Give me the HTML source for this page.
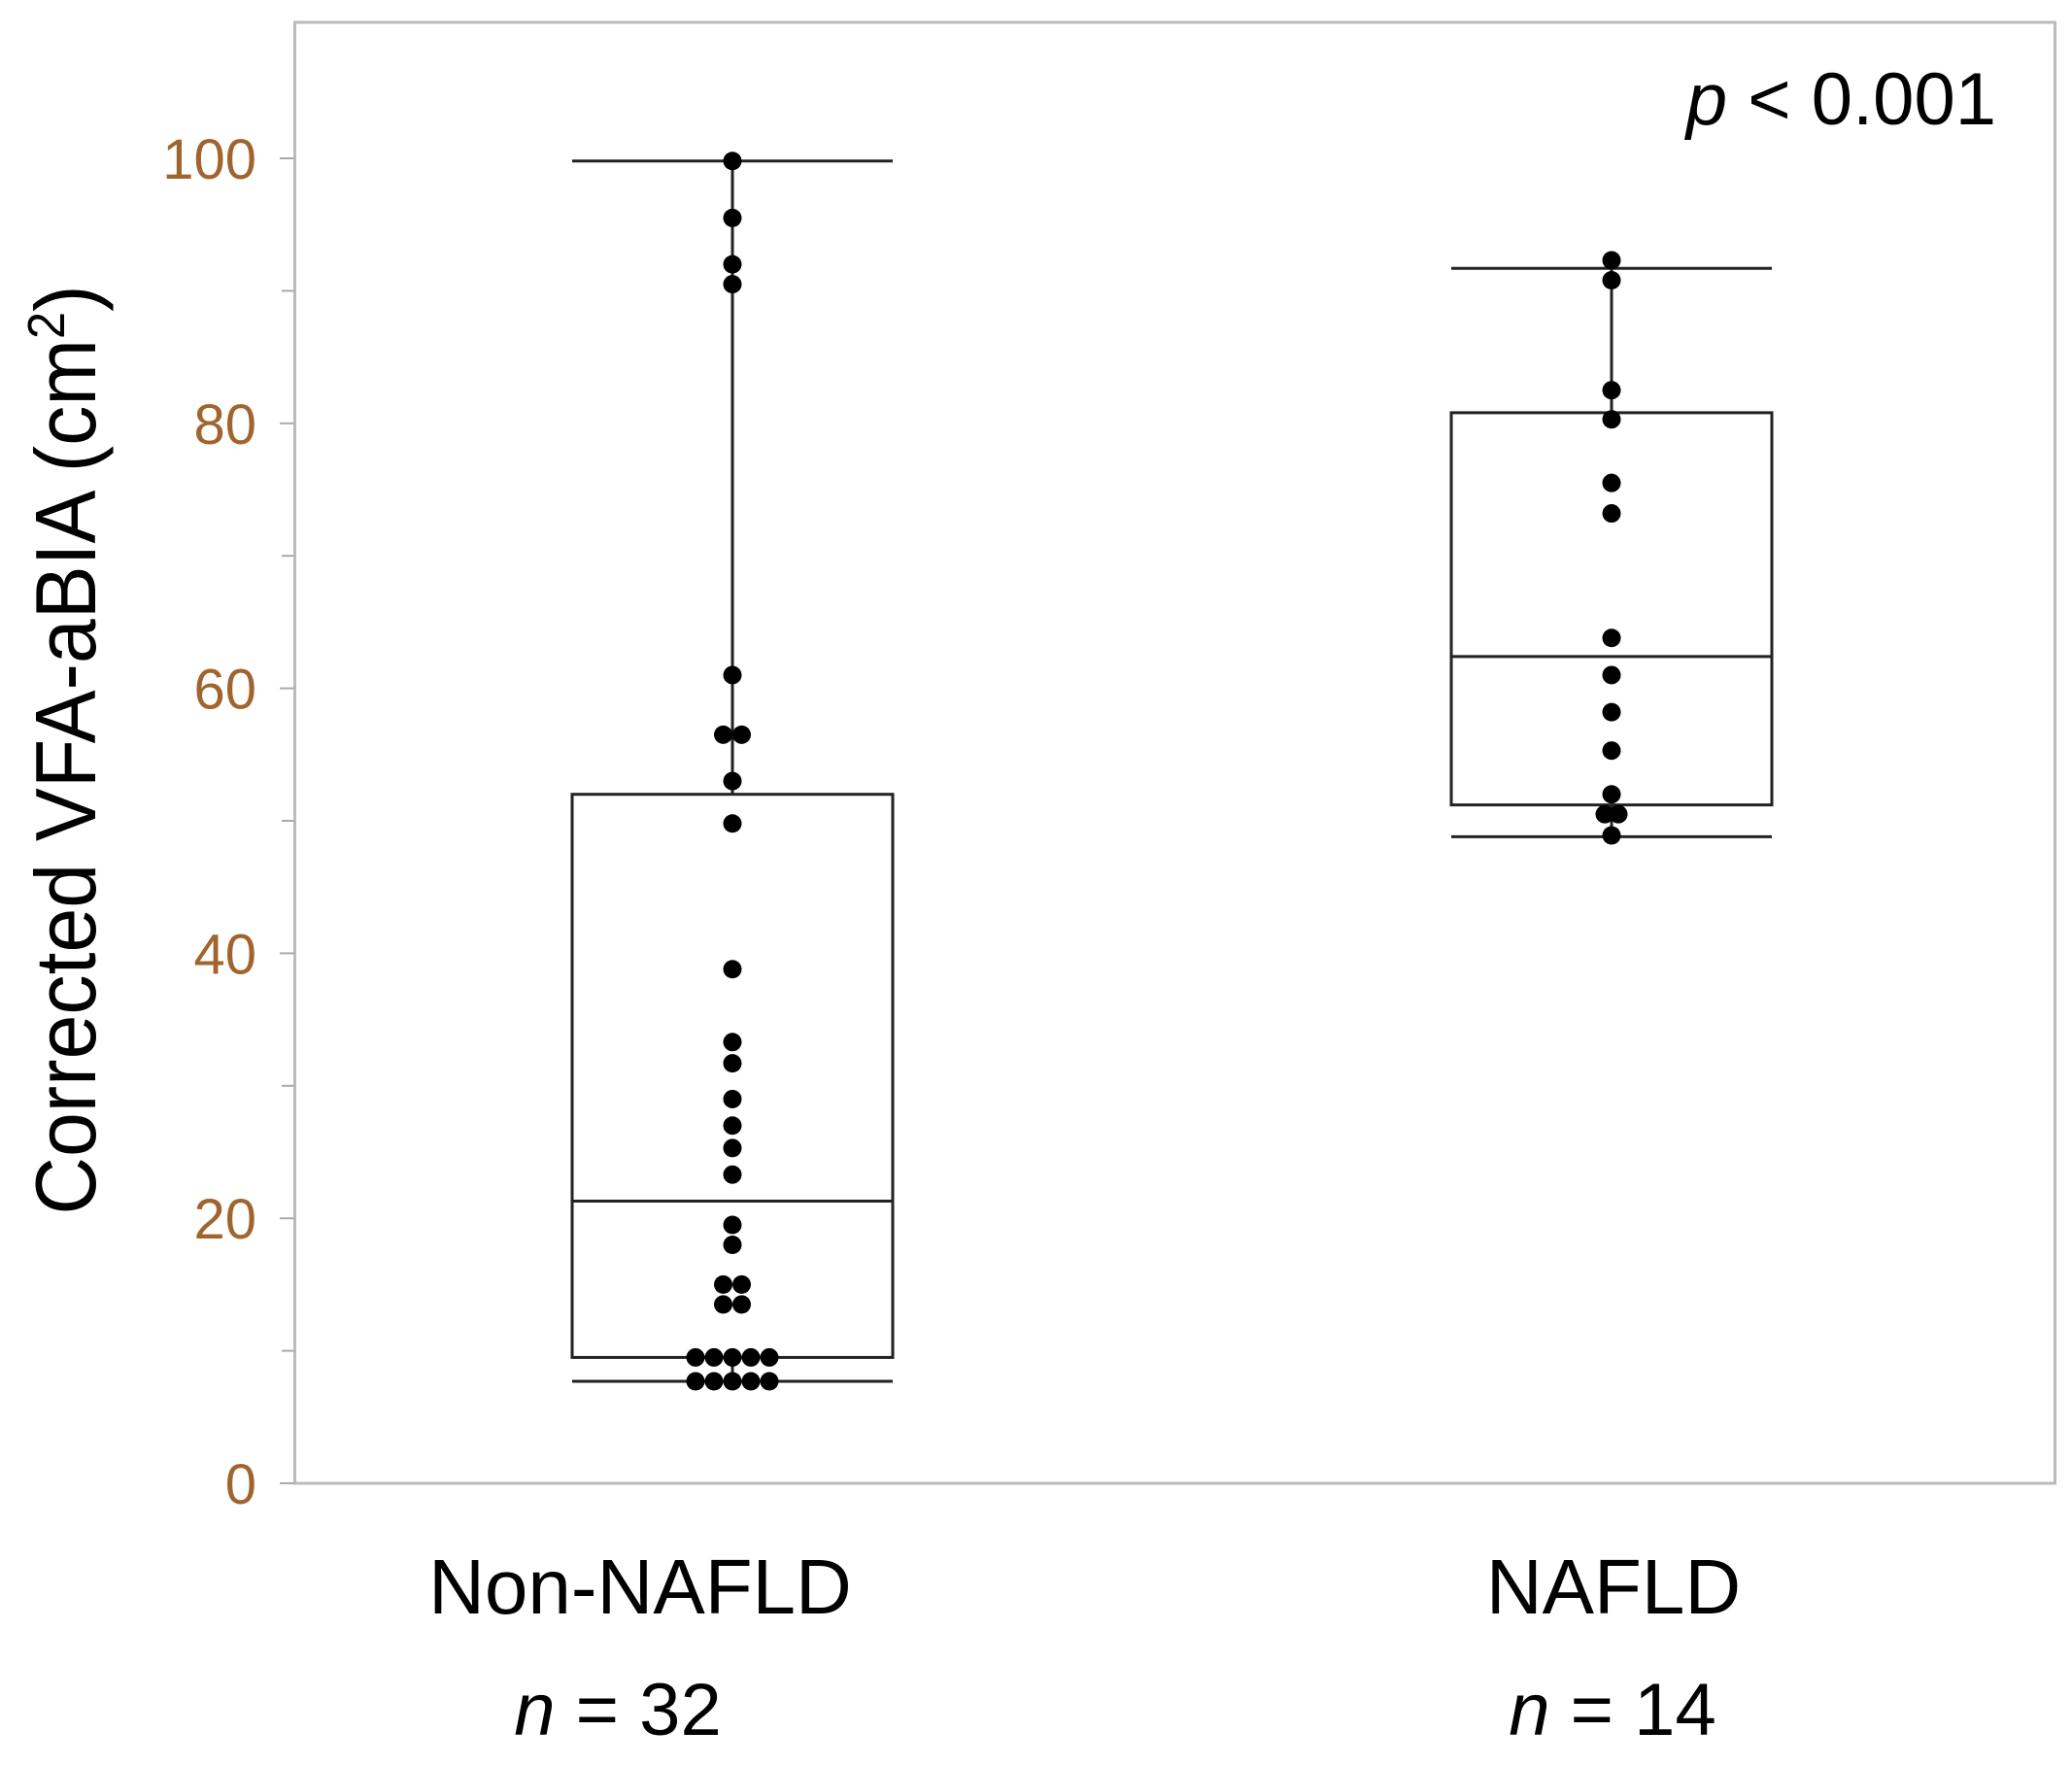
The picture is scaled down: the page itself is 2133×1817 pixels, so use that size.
<!DOCTYPE html>
<html><head><meta charset="utf-8"><style>
html,body{margin:0;padding:0;background:#fff;}
svg{display:block;font-family:"Liberation Sans",sans-serif;}
</style></head><body>
<svg id="chart" width="2133" height="1817" viewBox="0 0 2133 1817" xmlns="http://www.w3.org/2000/svg">
<rect x="303.5" y="23" width="1812" height="1504" fill="none" stroke="#bbb" stroke-width="3"/>
<text transform="translate(98,772) rotate(-90)" text-anchor="middle" font-size="88" textLength="957" lengthAdjust="spacingAndGlyphs" fill="#000">Corrected VFA-aBIA  (cm<tspan font-size="54" dy="-32">2</tspan><tspan dy="32">)</tspan></text>
<text x="2055" y="128" text-anchor="end" font-size="76" fill="#000"><tspan font-style="italic">p</tspan> &lt; 0.001</text>
<g id="axis"></g>
<g id="marks"></g>
</svg>
<script>
const categories = ["Non-NAFLD", "NAFLD"];
const counts = ["n = 32", "n = 14"];
const whiskerHigh = [99.8, 91.7];
const q3 = [52, 80.8];
const medians = [21.3, 62.4];
const q1 = [9.5, 51.2];
const whiskerLow = [7.7, 48.8];
const pointsNon = [99.8,95.5,92,90.5,61,56.5,56.5,53,49.8,38.8,33.3,31.7,29,27,25.3,23.3,19.5,18,15,15,13.5,13.5,9.5,9.5,9.5,9.5,9.5,7.7,7.7,7.7,7.7,7.7];
const pointsNafld = [92.3,90.8,82.5,80.3,75.5,73.2,63.8,61,58.2,55.3,52,50.5,50.5,48.9];
const yTicks = [0,20,40,60,80,100];
const yMinor = [10,30,50,70,90];

const NS="http://www.w3.org/2000/svg";
const y = v => 1527 - v*13.64;
const xc = i => [754,1659][i];
const labelX = [659,1661];
const countX = [636,1660];
const halfW = 165;
function mk(tag, attrs, parent){const e=document.createElementNS(NS,tag);for(const k in attrs)e.setAttribute(k,attrs[k]);parent.appendChild(e);return e;}
const axis=document.getElementById('axis'), marks=document.getElementById('marks');
yTicks.forEach(t=>{
  const tx=mk('text',{x:264,y:y(t)+21,'text-anchor':'end','font-size':58,fill:'#a0652e'},axis);
  
  
  tx.textContent=t;
  const l=mk('line',{x1:288,x2:303,y1:y(t),y2:y(t),stroke:'#aaa','stroke-width':2},axis);
  
  
});
yMinor.forEach(t=>{
  const l=mk('line',{x1:290,x2:303,y1:y(t),y2:y(t),stroke:'#aaa','stroke-width':2},axis);
  
  
});
categories.forEach((c,i)=>{
  const cx=xc(i);
  const t=mk('text',{x:labelX[i],y:1661,'text-anchor':'middle','font-size':80,fill:'#000'},axis);
  
  
  t.textContent=c;
  const n=mk('text',{x:countX[i],y:1786,'text-anchor':'middle','font-size':76,fill:'#000'},axis);
  
  
  n.innerHTML='<tspan font-style="italic">n</tspan>'+counts[i].slice(1);
  const g=mk('g',{},marks);
  
  
  const st={stroke:'#222','stroke-width':3,fill:'none'};
  mk('line',Object.assign({x1:cx,x2:cx,y1:y(whiskerHigh[i]),y2:y(q3[i])},st),g);
  mk('line',Object.assign({x1:cx,x2:cx,y1:y(q1[i]),y2:y(whiskerLow[i])},st),g);
  mk('line',Object.assign({x1:cx-halfW,x2:cx+halfW,y1:y(whiskerHigh[i]),y2:y(whiskerHigh[i])},st),g);
  mk('line',Object.assign({x1:cx-halfW,x2:cx+halfW,y1:y(whiskerLow[i]),y2:y(whiskerLow[i])},st),g);
  mk('rect',Object.assign({x:cx-halfW,y:y(q3[i]),width:2*halfW,height:y(q1[i])-y(q3[i])},st),g);
  mk('line',Object.assign({x1:cx-halfW,x2:cx+halfW,y1:y(medians[i]),y2:y(medians[i])},st),g);
});
[pointsNon,pointsNafld].forEach((pts,i)=>{
  const groups={};
  pts.forEach(v=>{(groups[v]=groups[v]||[]).push(v);});
  Object.keys(groups).forEach(k=>{
    const n=groups[k].length;
    groups[k].forEach((v,j)=>{
      const off=(j-(n-1)/2)*(i===0?19:14);
      const d=mk('circle',{cx:xc(i)+off,cy:y(v),r:9.5,fill:'#000'},marks);
      
      
    });
  });
});
</script>
</body></html>
